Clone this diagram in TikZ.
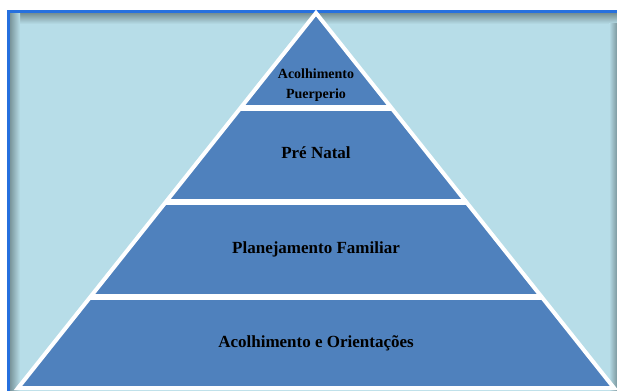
\documentclass[tikz,border=0pt]{standalone}
\usepackage{fontspec}
\setmainfont{Liberation Serif}
\usetikzlibrary{calc}
\definecolor{panelbg}{RGB}{183,221,232}
\definecolor{panelrim}{RGB}{38,112,222}
\definecolor{layerfill}{RGB}{79,129,189}
\definecolor{rimshade}{RGB}{110,135,140}
\tikzset{
  layertext/.style={font=\bfseries\fontsize{17}{20}\selectfont, text=black, align=center},
  toptext/.style={font=\bfseries\fontsize{14}{20}\selectfont, text=black, align=center},
  layer/.style={fill=layerfill, draw=white, line width=4pt, line join=miter},
  gap/.style={draw=white, line width=6pt}
}
\begin{document}
\begin{tikzpicture}[x=1pt,y=-1pt]
  \useasboundingbox (0,0) rectangle (617,390);
  \fill[white] (0,0) rectangle (617,390);
  % panel with inner shadow along its edges
  \fill[panelbg] (8,12) rectangle (630,400);
  \shade[top color=rimshade, bottom color=panelbg] (8,12) rectangle (630,24);
  \shade[left color=rimshade, right color=panelbg] (8,12) rectangle (20,400);
  \shade[left color=panelbg, right color=rimshade!80!panelbg] (609,24) rectangle (617,400);
  \draw[panelrim, line width=3pt] (630,12) -- (8,12) -- (8,400);
  % pyramid
  \coordinate (apex) at (316,13);
  \coordinate (bl) at (18,388);
  \coordinate (br) at (614,388);
  \path[layer] (apex) -- (br) -- (bl) -- cycle;
  % separators between the layers
  \coordinate (s1l) at ($(apex)!0.253!(bl)$);
  \coordinate (s1r) at ($(apex)!0.253!(br)$);
  \coordinate (s2l) at ($(apex)!0.505!(bl)$);
  \coordinate (s2r) at ($(apex)!0.505!(br)$);
  \coordinate (s3l) at ($(apex)!0.757!(bl)$);
  \coordinate (s3r) at ($(apex)!0.757!(br)$);
  \draw[gap] (s1l) -- (s1r);
  \draw[gap] (s2l) -- (s2r);
  \draw[gap] (s3l) -- (s3r);
  % labels
  \node[toptext] (l1) at (316,85) {Acolhimento\\Puerperio};
  \node[layertext] (l2) at (316,153) {Pré Natal};
  \node[layertext] (l3) at (316,249) {Planejamento Familiar};
  \node[layertext] (l4) at (316,343) {Acolhimento e Orientações};
\end{tikzpicture}
\end{document}
